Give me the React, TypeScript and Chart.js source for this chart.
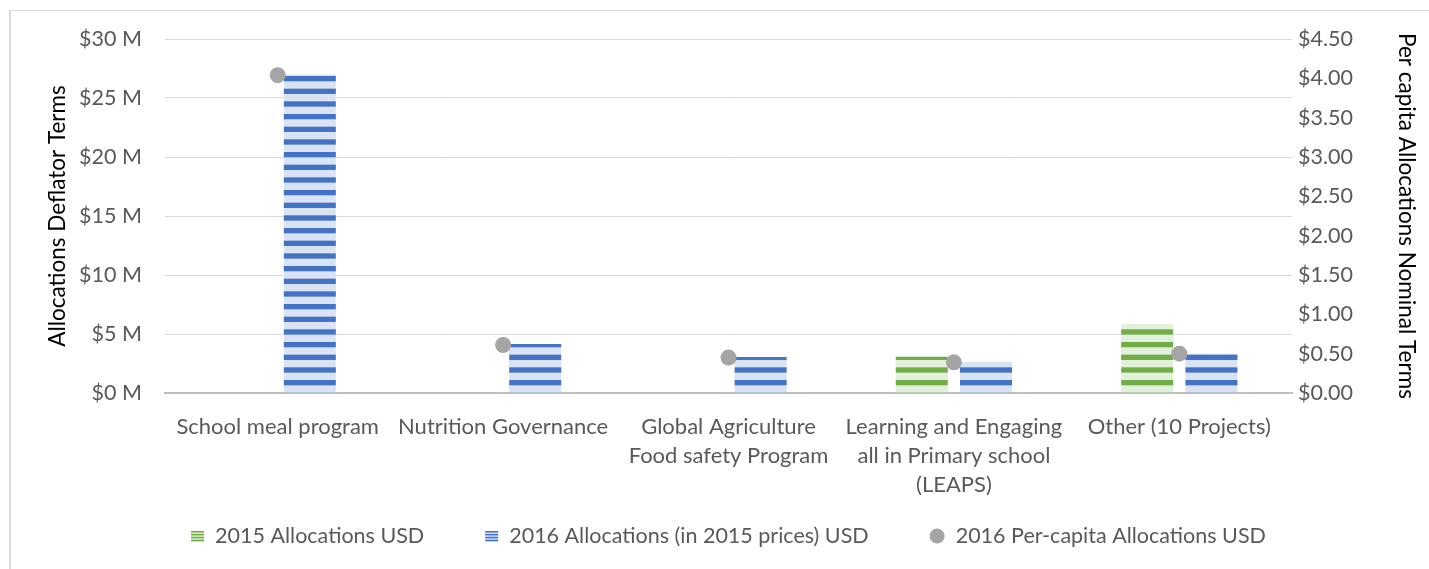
import React, { useEffect, useRef } from "react";
import { Chart, registerables } from "chart.js";

Chart.register(...registerables);

const categories: string[][] = [
  ["School meal program"],
  ["Nutrition Governance"],
  ["Global Agriculture", "Food safety Program"],
  ["Learning and Engaging", "all in Primary school", "(LEAPS)"],
  ["Other (10 Projects)"],
];
const alloc2015: number[] = [0, 0, 0, 3.08, 5.85];
const alloc2016: number[] = [27.0, 4.15, 3.05, 2.65, 3.33];
const perCapita2016: number[] = [4.04, 0.61, 0.45, 0.39, 0.5];

const seriesLabels = [
  "2015 Allocations USD",
  "2016 Allocations (in 2015 prices) USD",
  "2016 Per-capita Allocations USD",
];

const GREEN = "#70AD47";
const GREEN_LIGHT = "#E2EFDA";
const BLUE = "#4472C4";
const BLUE_LIGHT = "#DAE3F3";
const GRAY = "#A5A5A5";
const FONT = "Lato";

function stripePattern(dark: string, light: string): CanvasPattern | string {
  const c = document.createElement("canvas");
  c.width = 4;
  c.height = 38;
  const ctx = c.getContext("2d");
  if (!ctx) return dark;
  ctx.fillStyle = light;
  ctx.fillRect(0, 0, 4, 38);
  ctx.fillStyle = dark;
  for (let k = 0; k < 3; k++) ctx.fillRect(0, (k * 38) / 3, 4, 5.3);
  return ctx.createPattern(c, "repeat") || dark;
}

const legendPlugin = {
  id: "customLegend",
  afterDraw(chart: any) {
    const ctx = chart.ctx as CanvasRenderingContext2D;
    const area = chart.chartArea;
    ctx.save();
    ctx.font = `21.5px ${FONT}`;
    ctx.textBaseline = "middle";
    ctx.textAlign = "left";
    const kinds = ["green", "blue", "dot"];
    const boxW = [13, 13, 15];
    const gapBT = 11;
    const gapItems = 61;
    const widths = seriesLabels.map((t) => ctx.measureText(t).width);
    let total = 0;
    for (let i = 0; i < 3; i++) total += boxW[i] + gapBT + widths[i];
    total += gapItems * 2;
    let x = (area.left + area.right) / 2 - total / 2;
    const y = 536;
    for (let i = 0; i < 3; i++) {
      const k = kinds[i];
      if (k === "dot") {
        ctx.fillStyle = GRAY;
        ctx.beginPath();
        ctx.arc(x + 7.5, y, 7.5, 0, Math.PI * 2);
        ctx.fill();
      } else {
        const dark = k === "green" ? GREEN : BLUE;
        const light = k === "green" ? GREEN_LIGHT : BLUE_LIGHT;
        ctx.fillStyle = light;
        ctx.fillRect(x, y - 5, 13, 11);
        ctx.fillStyle = dark;
        for (let j = 0; j < 4; j++) ctx.fillRect(x, y - 5 + j * 2.9, 13, 1.5);
      }
      x += boxW[i] + gapBT;
      ctx.fillStyle = "#595959";
      ctx.fillText(seriesLabels[i], x, y);
      x += widths[i] + gapItems;
    }
    ctx.restore();
  },
};

export default function App() {
  const ref = useRef<HTMLCanvasElement | null>(null);

  useEffect(() => {
    if (!ref.current) return;
    const chart = new Chart(ref.current, {
      type: "bar",
      data: {
        labels: categories,
        datasets: [
          {
            type: "line",
            label: seriesLabels[2],
            data: perCapita2016,
            yAxisID: "y1",
            showLine: false,
            pointRadius: 8,
            pointHoverRadius: 8,
            pointBackgroundColor: GRAY,
            pointBorderWidth: 0,
            borderColor: GRAY,
            order: 0,
          } as any,
          {
            type: "bar",
            label: seriesLabels[0],
            data: alloc2015,
            yAxisID: "y",
            backgroundColor: stripePattern(GREEN, GREEN_LIGHT) as any,
            borderWidth: 0,
            barPercentage: 0.81,
            categoryPercentage: 0.57,
            order: 1,
          },
          {
            type: "bar",
            label: seriesLabels[1],
            data: alloc2016,
            yAxisID: "y",
            backgroundColor: stripePattern(BLUE, BLUE_LIGHT) as any,
            borderWidth: 0,
            barPercentage: 0.81,
            categoryPercentage: 0.57,
            order: 1,
          },
        ],
      },
      options: {
        responsive: false,
        animation: false,
        devicePixelRatio: 1,
        layout: { padding: { top: 39, bottom: 0, left: 0, right: 0 } },
        plugins: {
          legend: { display: false },
          tooltip: { enabled: false },
        },
        scales: {
          x: {
            grid: { display: false },
            border: { display: true, color: "#BFBFBF", width: 2 },
            ticks: {
              color: "#595959",
              font: { family: FONT, size: 22, lineHeight: 29 / 22 },
              padding: 11,
              maxRotation: 0,
              autoSkip: false,
            },
            afterFit: (scale: any) => {
              scale.height = 569 - 393;
            },
          },
          y: {
            position: "left",
            min: 0,
            max: 30,
            grid: { color: "#D9D9D9", lineWidth: 1, drawTicks: false },
            border: { display: false },
            ticks: {
              stepSize: 5,
              color: "#595959",
              font: { family: FONT, size: 21.5 },
              padding: 23,
              callback: (v: any) => `$${v} M`,
            },
            title: {
              display: true,
              text: "Allocations Deflator Terms",
              color: "#000000",
              font: { family: FONT, size: 22.5 },
              padding: { top: 44.5, bottom: 0 },
            },
            afterFit: (scale: any) => {
              scale.width = 165;
            },
          },
          y1: {
            position: "right",
            min: 0,
            max: 4.5,
            grid: { display: false, drawTicks: false },
            border: { display: false },
            ticks: {
              stepSize: 0.5,
              color: "#595959",
              font: { family: FONT, size: 21.5 },
              padding: 6,
              callback: (v: any) => `$${Number(v).toFixed(2)}`,
            },
            title: {
              display: true,
              text: "Per capita Allocations Nominal Terms",
              color: "#000000",
              font: { family: FONT, size: 22.5 },
              padding: { top: 9.5, bottom: 0 },
            },
            afterFit: (scale: any) => {
              scale.width = 1429 - 1292;
            },
          },
        },
      },
      plugins: [legendPlugin],
    });
    return () => chart.destroy();
  }, []);

  return (
    <div>
      <div
        style={{
          position: "fixed",
          left: 9,
          top: 10,
          width: 2000,
          height: 2000,
          borderLeft: "2px solid #D9D9D9",
          borderTop: "1px solid #D9D9D9",
          boxSizing: "border-box",
        }}
      />
      <canvas
        ref={ref}
        width={1429}
        height={569}
        style={{ position: "fixed", left: 0, top: 0, width: 1429, height: 569, display: "block" }}
      />
    </div>
  );
}
